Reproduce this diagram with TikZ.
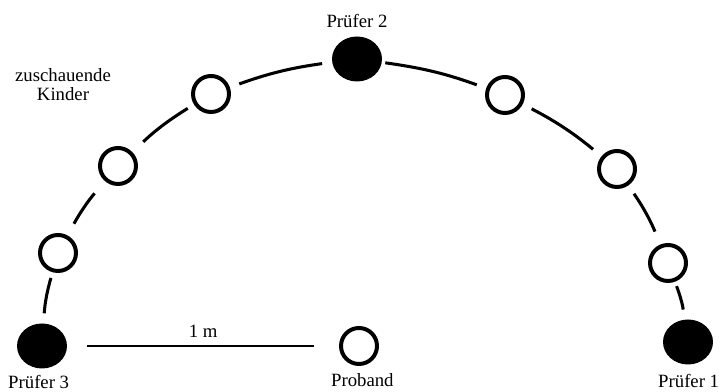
\documentclass[tikz,border=0pt]{standalone}
\usepackage{fontspec}
\setmainfont{Liberation Serif}
\usepackage{tikz}
\usetikzlibrary{shapes.geometric,positioning}
\tikzset{
  kind/.style={circle,draw=black,line width=3.4pt,fill=white,minimum size=1.08cm,inner sep=0pt},
  pruef/.style={ellipse,fill=black,minimum width=1.5cm,minimum height=1.35cm,inner sep=0pt},
  lb/.style={font=\fontsize{16}{15.5}\selectfont,inner sep=0pt},
  bo/.style={line width=2.6pt},
}

\begin{document}
\begin{tikzpicture}
\useasboundingbox (0,0) rectangle (21.75,11.76);
\node[pruef] (p3) at (1.26,1.38) {};
\node[kind] (k1) at (1.74,4.17) {};
\node[kind] (k2) at (3.54,6.78) {};
\node[kind] (k3) at (6.33,8.94) {};
\node[pruef] (p2) at (10.71,9.99) {};
\node[kind] (k4) at (15.15,8.91) {};
\node[kind] (k5) at (18.51,6.69) {};
\node[kind] (k6) at (20.04,3.87) {};
\node[pruef] (p1) at (20.64,1.50) {};
\node[kind] (pb) at (10.77,1.38) {};
% Halbkreis
\draw[bo,shorten <=0.3cm,shorten >=0.18cm] (p3) to[bend left=6] (k1);
\draw[bo,shorten <=0.4cm,shorten >=0.48cm] (k1) to[bend left=6] (k2);
\draw[bo,shorten <=0.45cm,shorten >=0.22cm] (k2) to[bend left=6] (k3);
\draw[bo,shorten <=0.3cm,shorten >=0.3cm] (k3) to[bend left=6] (p2);
\draw[bo,shorten <=0.1cm,shorten >=0.3cm] (p2) to[bend left=6] (k4);
\draw[bo,shorten <=0.3cm,shorten >=0.33cm] (k4) to[bend left=6] (k5);
\draw[bo,shorten <=0.3cm,shorten >=0.42cm] (k5) to[bend left=6] (k6);
\draw[bo,shorten <=0.14cm,shorten >=0.3cm] (k6) to[bend left=6] (p1);
\draw[bo,line width=2.4pt,shorten <=0.6cm,shorten >=0.75cm] (p3) -- node[lb,above=0.22cm]{1 m} (pb);
% Beschriftung
\node[lb,below=0.18cm of p3,xshift=-0.1cm] {Prüfer 3};
\node[lb,below=0.22cm of pb,xshift=0.1cm] {Proband};
\node[lb,below=0.28cm of p1,xshift=0.02cm] {Prüfer 1};
\node[lb,above=0.26cm of p2] {Prüfer 2};
\node[lb,align=center] (zk) at (1.89,9.22) {zuschauende\\Kinder};
\end{tikzpicture}
\end{document}
